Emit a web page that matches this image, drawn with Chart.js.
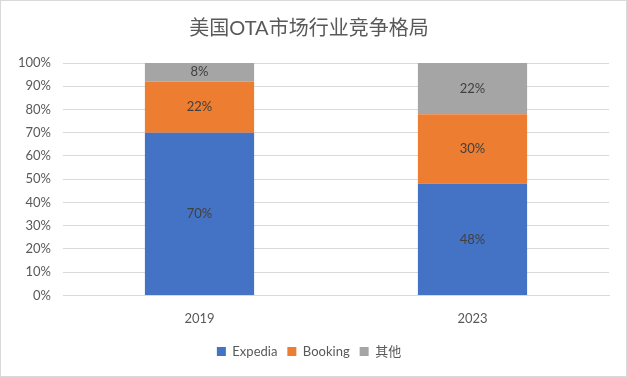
<!DOCTYPE html>
<html>
<head>
<meta charset="utf-8">
<script src="https://cdn.jsdelivr.net/npm/chart.js@4"></script>
<style>
	html, body { margin: 0; padding: 0; background: #fff; }
	.chart { position: relative; width: 625px; height: 375px; border: 1px solid #d9d9d9; }
</style>
</head>
<body>
<div class="chart"><canvas id="c"></canvas></div>
<script>
const years = ['2019', '2023'];
const expedia = [70, 48];
const booking = [22, 30];
const others = [8, 22];
const seriesNames = ['Expedia', 'Booking', '其他'];

const fontFamily = 'Lato, "Noto Sans CJK SC", sans-serif';
const textColor = '#595959';

// draws the percentage in the middle of every bar segment
const barLabels = {
	id: 'barLabels',
	afterDatasetsDraw(chart) {
		const ctx = chart.ctx;
		ctx.save();
		ctx.font = '13px ' + fontFamily;
		ctx.fillStyle = '#404040';
		ctx.textAlign = 'center';
		ctx.textBaseline = 'middle';
		chart.data.datasets.forEach(function(ds, i) {
			chart.getDatasetMeta(i).data.forEach(function(bar, j) {
				const mid = (bar.y + bar.base) / 2;
				ctx.fillText(ds.data[j] + '%', bar.x, mid);
			});
		});
		ctx.restore();
	}
};

new Chart(document.getElementById('c'), {
	type: 'bar',
	data: {
		labels: years,
		datasets: [
			{label: seriesNames[0], data: expedia, backgroundColor: '#4472c4'},
			{label: seriesNames[1], data: booking, backgroundColor: '#ed7d31'},
			{label: seriesNames[2], data: others, backgroundColor: '#a5a5a5'}
		]
	},
	options: {
		responsive: true,
		maintainAspectRatio: false,
		animation: false,
		layout: {padding: {left: 8, right: 17, top: 8, bottom: 8}},
		datasets: {bar: {categoryPercentage: 0.4, barPercentage: 1}},
		plugins: {
			title: {
				display: true,
				text: '美国OTA市场行业竞争格局',
				color: textColor,
				font: {family: fontFamily, size: 20, weight: 'normal'},
				padding: {top: 8, bottom: 22}
			},
			legend: {
				position: 'bottom',
				labels: {
					color: textColor,
					boxWidth: 9,
					boxHeight: 9,
					padding: 10,
					font: {family: fontFamily, size: 13}
				}
			},
			tooltip: {enabled: false}
		},
		scales: {
			x: {
				stacked: true,
				grid: {display: false},
				border: {color: '#d9d9d9'},
				ticks: {color: textColor, font: {family: fontFamily, size: 13}, padding: 8}
			},
			y: {
				stacked: true,
				min: 0,
				max: 100,
				afterFit(scale) { scale.width = 54; },
				border: {display: false},
				grid: {color: '#d9d9d9', drawTicks: false},
				ticks: {
					stepSize: 10,
					color: textColor,
					padding: 12,
					font: {family: fontFamily, size: 13},
					callback: function(v) { return v + '%'; }
				}
			}
		}
	},
	plugins: [barLabels]
});
</script>
</body>
</html>
